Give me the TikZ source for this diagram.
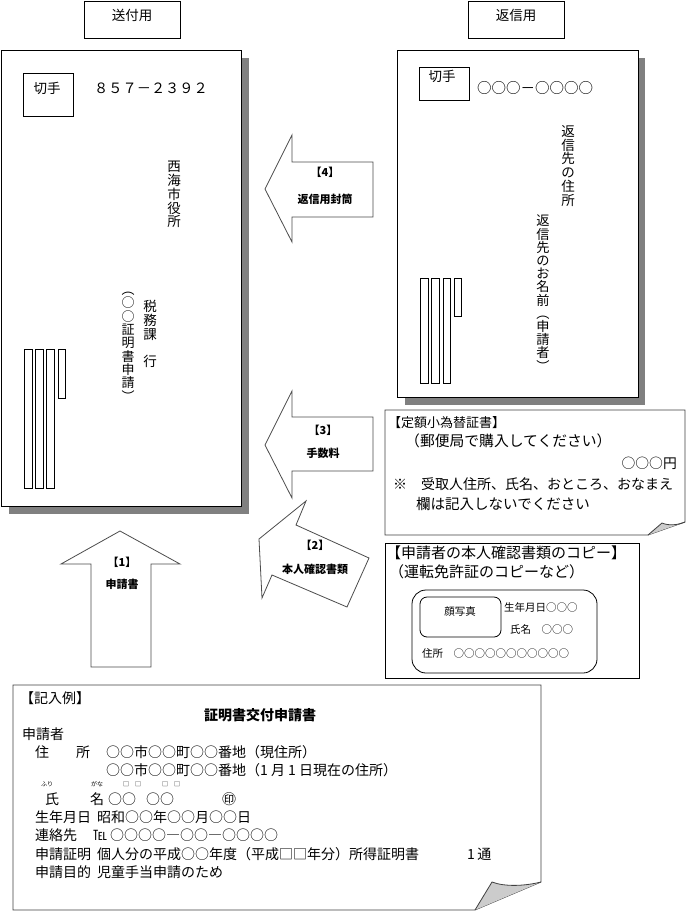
\documentclass[tikz,border=0pt]{standalone}
\usepackage{fontspec}
\setmainfont{Noto Sans CJK JP}
\tikzset{
  env/.style={draw=black, line width=0.8pt, fill=white},
  shad/.style={fill=black!50, draw=none},
  bx/.style={draw=black, line width=0.8pt},
  note/.style={draw=black!75, line width=0.8pt, fill=white},
  fold/.style={draw=black!75, line width=0.8pt, fill=black!20},
  arr/.style={draw=black!70, line width=0.8pt, fill=white},
  alab/.style={inner sep=0pt, font=\bfseries\fontsize{11}{13}\selectfont},
  txt/.style={inner sep=0pt, font=\fontsize{13.5}{16}\selectfont},
  ptxt/.style={inner sep=0pt, anchor=west, font=\fontsize{13.8}{16}\selectfont},
  ftxt/.style={inner sep=0pt, anchor=west, font=\fontsize{14}{16}\selectfont},
  small/.style={inner sep=0pt, anchor=west, font=\fontsize{10.5}{12}\selectfont},
  ruby/.style={inner sep=0pt, font=\fontsize{6}{7}\selectfont},
  vt/.style={inner sep=0pt, anchor=north, align=center, font=\fontsize{13.5}{13.8}\selectfont},
}
\begin{document}
\begin{tikzpicture}[x=1pt,y=-1pt]
\useasboundingbox (0,0) rectangle (686,911);
% title boxes
\draw[bx] (84,1) rectangle (180,38);
\node[txt] (lab1) at (132,15) {送付用};
\draw[bx] (468,1) rectangle (564,38);
\node[txt] (lab2) at (516,15) {返信用};
% left envelope
\fill[shad] (9,58) rectangle (249,514);
\draw[env] (1,50) rectangle (241,506);
\draw[bx] (23,73) rectangle (73,116);
\node[txt] (st1) at (47,88) {切手};
\node[txt, anchor=west, font=\fontsize{14.2}{16}\selectfont] (zip1) at (94,88) {８５７－２３９２};
\node[vt] (v1) at (174,161) {西\\海\\市\\役\\所};
\node[vt] (v2) at (150,300) {税\\務\\課\\　\\行};
\node[vt, font=\fontsize{13}{13.3}\selectfont] (v3) at (128,292) {︵\\○\\○\\証\\明\\書\\申\\請\\︶};
\draw[bx] (24,349) rectangle (32,488);
\draw[bx] (35,349) rectangle (43,488);
\draw[bx] (46,349) rectangle (54,488);
\draw[bx] (58,349) rectangle (65,398);
% right envelope
\fill[shad] (405,58) rectangle (645,405);
\draw[env] (397,50) rectangle (638,397);
\draw[bx] (419,67) rectangle (469,100);
\node[txt] (st2) at (442,76) {切手};
\node[txt, anchor=west, font=\fontsize{14.5}{16}\selectfont] (zip2) at (477,88) {○○○－○○○○};
\node[vt] (v4) at (568,125) {返\\信\\先\\の\\住\\所};
\node[vt, font=\fontsize{13.2}{13.2}\selectfont] (v5) at (543,215) {返\\信\\先\\の\\お\\名\\前\\︵\\申\\請\\者\\︶};
\draw[bx] (420,278) rectangle (428,383);
\draw[bx] (431,278) rectangle (439,383);
\draw[bx] (443,278) rectangle (450,383);
\draw[bx] (454,278) rectangle (461,316);
% arrows
\draw[arr] (265,189) -- (292,135) -- (292,162) -- (373,162) -- (373,217) -- (292,217) -- (292,242) -- cycle;
\node[alab] (a4a) at (325,172) {【4】};
\node[alab] (a4b) at (325,199) {返信用封筒};
\draw[arr] (265,445) -- (292,391) -- (292,417) -- (373,417) -- (373,471) -- (292,471) -- (292,498) -- cycle;
\node[alab] (a3a) at (323,430) {【3】};
\node[alab] (a3b) at (323,453) {手数料};
\draw[arr] (306,501) -- (296,525) -- (369,558) -- (347,607) -- (272,575) -- (262,598) -- (259,539) -- cycle;
\node[alab] (a2a) at (315,545) {【2】};
\node[alab] (a2b) at (315,569) {本人確認書類};
\draw[arr] (120,531) -- (180,564) -- (151,564) -- (151,667) -- (91,667) -- (91,564) -- (61,564) -- cycle;
\node[alab] (a1a) at (122,562) {【1】};
\node[alab] (a1b) at (122,584) {申請書};
% postal money order note
\draw[note] (385,410) -- (685,410) -- (685,522) -- (648,535) -- (385,535) -- cycle;
\draw[fold] (648,535) -- (662,523) .. controls (669,526) and (678,525) .. (685,522);
\node[ptxt, font=\fontsize{13}{16}\selectfont] (n1) at (388,423) {【定額小為替証書】};
\node[ptxt, font=\fontsize{14.8}{16}\selectfont] (n2) at (405,441) {（郵便局で購入してください）};
\node[ptxt, anchor=east] (n3) at (677,463) {○○○円};
\node[ptxt, font=\fontsize{14}{16}\selectfont] (n4) at (393,484) {※　受取人住所、氏名、おところ、おなまえ};
\node[ptxt, font=\fontsize{14.5}{16}\selectfont] (n5) at (416,504) {欄は記入しないでください};
% ID copy box
\draw[bx] (385,543) rectangle (639,678);
\node[ptxt, font=\fontsize{15}{16}\selectfont] (m1) at (386,553) {【申請者の本人確認書類のコピー】};
\node[ptxt, font=\fontsize{15}{16}\selectfont] (m2) at (389,572) {（運転免許証のコピーなど）};
\draw[bx, rounded corners=14pt] (412,590) rectangle (597,673);
\draw[bx, rounded corners=7pt] (420,597) rectangle (501,637);
\node[small, anchor=center] (m3) at (460,612) {顔写真};
\node[small] (m4) at (504,607) {生年月日○○○};
\node[small] (m5) at (510,630) {氏名　○○○};
\node[small] (m6) at (422,653) {住所　○○○○○○○○○○○};
% application form example
\draw[note] (13,685) -- (541,685) -- (541,882) -- (475,910) -- (13,910) -- cycle;
\draw[fold] (475,910) -- (492,882) .. controls (505,887) and (525,886) .. (541,882);
\node[ftxt] (f1) at (20,698) {【記入例】};
\node[inner sep=0pt, font=\bfseries\fontsize{14}{16}\selectfont] (f2) at (260,715) {証明書交付申請書};
\node[ftxt] (f3) at (22,734) {申請者};
\node[ftxt] (f4a) at (35,752) {住};
\node[ftxt] (f4b) at (76,752) {所};
\node[ftxt] (f4c) at (106,752) {○○市○○町○○番地（現住所）};
\node[ftxt] (f5) at (106,770) {○○市○○町○○番地（1 月 1 日現在の住所）};
\node[ruby] (r1) at (47,784) {ふり};
\node[ruby] (r2) at (97,784) {がな};
\node[ruby] (r3) at (132,784) {□　□};
\node[ruby] (r4) at (171,784) {□　□};
\node[ftxt] (f6a) at (45,799) {氏};
\node[ftxt] (f6b) at (90,799) {名};
\node[ftxt] (f6c) at (108,799) {○○};
\node[ftxt] (f6d) at (146,799) {○○};
\node[ftxt] (f6e) at (222,799) {㊞};
\node[ftxt] (f7a) at (35,817) {生年月日};
\node[ftxt] (f7b) at (97,817) {昭和○○年○○月○○日};
\node[ftxt] (f8a) at (35,835) {連絡先};
\node[ftxt] (f8b) at (93,835) {℡};
\node[ftxt] (f8c) at (110,835) {○○○○―○○―○○○○};
\node[ftxt] (f9a) at (35,854) {申請証明};
\node[ftxt] (f9b) at (97,854) {個人分の平成○○年度（平成□□年分）所得証明書};
\node[ftxt] (f9c) at (467,854) {1\,通};
\node[ftxt] (f10a) at (35,872) {申請目的};
\node[ftxt] (f10b) at (97,872) {児童手当申請のため};
\end{tikzpicture}
\end{document}
